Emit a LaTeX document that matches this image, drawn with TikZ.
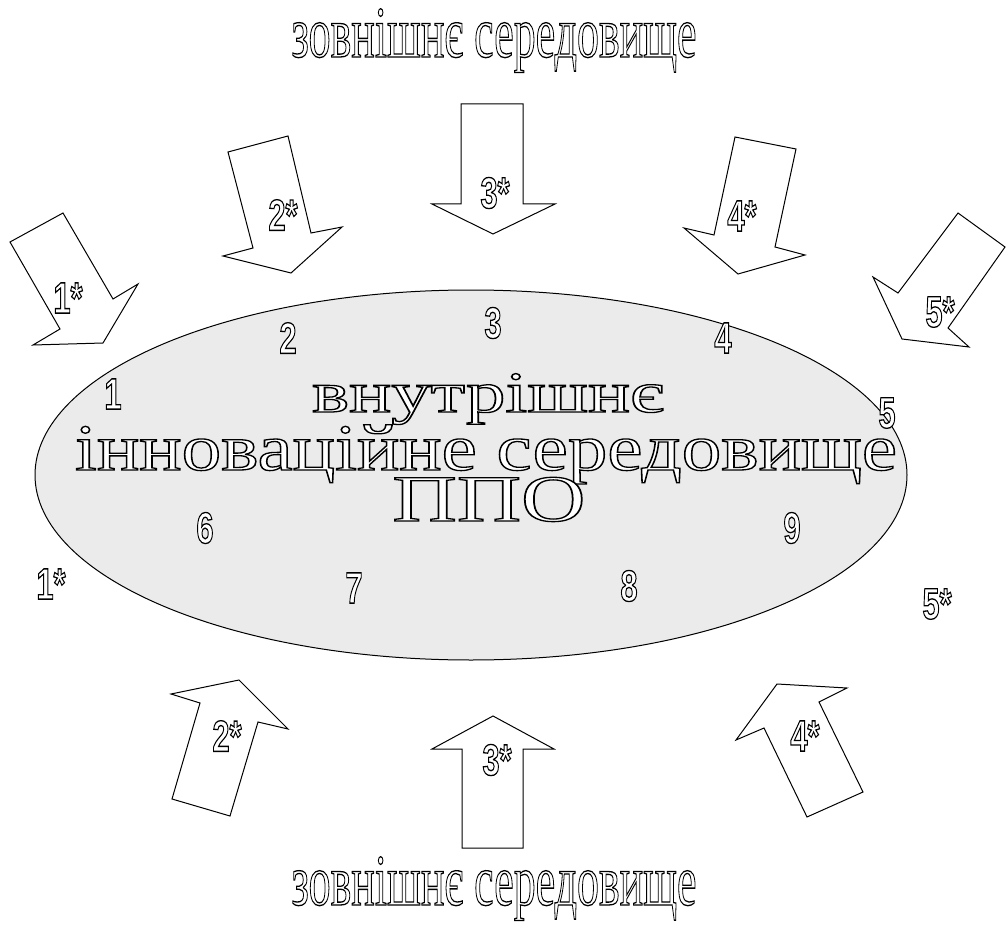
\documentclass[tikz,border=0pt]{standalone}
\usepackage{fontspec}
\setmainfont{Liberation Serif}
\newfontfamily\numfont{Liberation Sans}
\NewDocumentCommand{\outl}{m}{{\color{white}\special{pdf:literal direct 0 G 1.3 w 2 Tr}#1\special{pdf:literal direct 0 Tr}}}
\NewDocumentCommand{\narr}{m}{\scalebox{0.7}[1]{#1}}
\NewDocumentCommand{\wide}{mm}{\resizebox{#1}{\height}{#2}}
\definecolor{ellgray}{RGB}{235,235,235}
\tikzset{
  blockarrow/.style={draw=black, fill=white, line width=1pt, line join=miter},
  num/.style={inner sep=0pt, font=\numfont\bfseries\fontsize{44}{44}\selectfont},
  title/.style={inner sep=0pt, anchor=base, font=\fontsize{73}{73}\selectfont},
  inner/.style={inner sep=0pt, anchor=base, font=\fontsize{66}{66}\selectfont},
}
\begin{document}
\begin{tikzpicture}[x=1pt,y=-1pt]
\useasboundingbox (0,0) rectangle (1006,925);

% titles
\node[title] (toptitle) at (494,57) {\outl{\wide{405pt}{зовнішнє середовище}}};
\node[title] (bottitle) at (494,905) {\outl{\wide{405pt}{зовнішнє середовище}}};

% ellipse
\draw[fill=ellgray, line width=1pt] (471,475) ellipse [x radius=436, y radius=185];
\node (ell) at (471,475) {};

% inner text
\node[inner, font=\fontsize{58}{58}\selectfont] (l1) at (488,412) {\outl{\wide{352pt}{внутрішнє}}};
\node[inner] (l2) at (486,470) {\outl{\wide{822pt}{інноваційне середовище}}};
\node[inner] (l3) at (489,521) {\outl{\wide{193pt}{ППО}}};

% numbers
\node[num] (n1) at (113,394) {\outl{\narr{1}}};
\node[num] (n2) at (288,338) {\outl{\narr{2}}};
\node[num] (n3) at (493,323) {\outl{\narr{3}}};
\node[num] (n4) at (723,338) {\outl{\narr{4}}};
\node[num] (n5) at (887,413) {\outl{\narr{5}}};
\node[num] (n6) at (205,528) {\outl{\narr{6}}};
\node[num] (n7) at (354,588) {\outl{\narr{7}}};
\node[num] (n8) at (629,586) {\outl{\narr{8}}};
\node[num] (n9) at (792,528) {\outl{\narr{9}}};

% arrows (top)
\draw[blockarrow] (10,242) -- (63,213) -- (113,299) -- (138,284) -- (103,343) -- (33,345) -- (60,329) -- cycle;
\draw[blockarrow] (228,152) -- (288,136) -- (311,233) -- (342,227) -- (291,273) -- (223,256) -- (253,248) -- cycle;
\draw[blockarrow] (461,104) -- (523,104) -- (523,204) -- (555,204) -- (493,234) -- (432,204) -- (461,204) -- cycle;
\draw[blockarrow] (735,137) -- (796,149) -- (775,247) -- (805,255) -- (738,274) -- (684,228) -- (714,235) -- cycle;
\draw[blockarrow] (958,213) -- (1005,247) -- (948,328) -- (969,347) -- (902,339) -- (873,277) -- (898,293) -- cycle;
% arrows (bottom)
\draw[blockarrow] (172,799) -- (200,703) -- (171,694) -- (239,680) -- (288,729) -- (258,722) -- (230,816) -- cycle;
\draw[blockarrow] (462,848) -- (462,749) -- (432,749) -- (493,716) -- (554,749) -- (523,749) -- (523,848) -- cycle;
\draw[blockarrow] (807,817) -- (764,728) -- (736,740) -- (777,684) -- (847,688) -- (819,702) -- (863,792) -- cycle;

% star labels
\node[num] (s1) at (68,298) {\outl{\narr{1*}}};
\node[num] (s2) at (283,215) {\outl{\narr{2*}}};
\node[num] (s3) at (495,193) {\outl{\narr{3*}}};
\node[num] (s4) at (742,216) {\outl{\narr{4*}}};
\node[num] (s5) at (940,312) {\outl{\narr{5*}}};
\node[num] (s1b) at (51,584) {\outl{\narr{1*}}};
\node[num] (s5b) at (937,604) {\outl{\narr{5*}}};
\node[num] (s2b) at (227,736) {\outl{\narr{2*}}};
\node[num] (s3b) at (497,760) {\outl{\narr{3*}}};
\node[num] (s4b) at (805,736) {\outl{\narr{4*}}};
\end{tikzpicture}
\end{document}
